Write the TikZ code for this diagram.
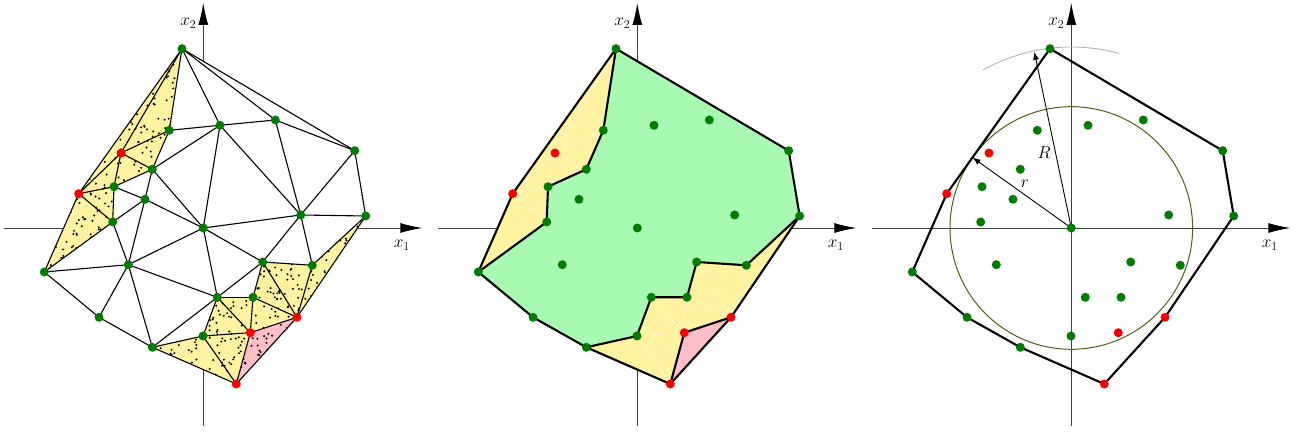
\documentclass[tikz,border=0pt]{standalone}
\usetikzlibrary{arrows.meta}
\definecolor{ptgreen}{RGB}{0,125,0}
\definecolor{ptred}{RGB}{250,0,0}
\definecolor{cellyellow}{RGB}{255,242,160}
\definecolor{cellpink}{RGB}{255,190,200}
\definecolor{cellgreen}{RGB}{168,250,178}
\definecolor{ballolive}{RGB}{90,90,20}
\newcommand{\ptlist}{1/-21.3/179.3,2/-34/97.7,3/16.7/102.7,4/72/108,5/151.4/77.3,
 6/-82.3/75,7/-51/58.7,8/-89.3/41.3,9/-124.6/34.3,10/-58.3/28.7,11/-90.6/6,12/0/0,
 13/97.4/13,14/162.4/12,15/-159/-44,16/-75/-36.7,17/59.4/-34,18/109/-37.3,
 19/14/-69.3,20/49.7/-69.3,21/93.7/-89.3,22/-104.3/-89.3,23/47/-104.7,
 24/-0.3/-108,25/-51/-119.3,26/33/-156}
\newcommand{\greenpts}{1,2,3,4,5,7,8,10,11,12,13,14,15,16,17,18,19,20,22,24,25}
\newcommand{\redpts}{6,9,21,23,26}
\newcommand{\triedges}{1/5,5/14,14/21,21/26,26/25,25/22,22/15,15/9,9/1,
 1/6,1/2,1/3,1/4,6/9,6/2,6/7,6/8,9/8,9/11,2/7,2/3,7/8,7/3,7/12,7/10,8/11,8/10,
 10/11,10/16,10/12,11/15,11/16,3/4,3/12,3/13,4/5,4/13,5/13,13/14,13/12,13/17,
 13/18,14/18,12/16,12/19,12/17,15/16,16/22,16/25,16/19,25/19,25/24,19/24,19/23,
 19/20,19/17,17/20,17/21,17/18,18/21,20/21,20/23,23/21,23/24,23/26,24/26}
\newcommand{\yellowtris}{1/9/6,1/6/2,6/2/7,6/7/8,6/8/9,9/8/11,9/11/15,
 25/24/26,24/23/26,24/19/23,19/20/23,20/21/23,20/17/21,17/18/21,18/14/21}
\newcommand{\softedges}{1/6,6/9,6/2,6/7,6/8,9/8,9/11,24/26,24/23,19/23,20/23,20/21,17/21,18/21}

\begin{document}
\begin{tikzpicture}[x=1pt,y=1pt,font=\fontsize{17.5}{21}\selectfont,
 axis/.style={draw=black!75,line width=0.9pt,-{Latex[length=22pt,width=10pt,color=black]}},
 edge/.style={line width=1.1pt},
 bound/.style={line width=2.1pt,line join=round},
 soft/.style={draw=white,line width=0.8pt,opacity=0.45},
 gpt/.style={circle,fill=ptgreen,inner sep=0pt,minimum size=9pt},
 rpt/.style={circle,fill=ptred,inner sep=0pt,minimum size=9pt},
 radarr/.style={line width=0.9pt,-{Latex[length=8pt,width=6pt]}}]
\useasboundingbox (0,0) rectangle (1299,435);

\begin{scope}[shift={(203.3,207)}]
\foreach \n/\x/\y in \ptlist {\coordinate (p\n) at (\x,\y);}
\coordinate (xl) at (-199,0); \coordinate (xr) at (219,0);
\coordinate (yb) at (0,-198); \coordinate (yt) at (0,225);
\draw[axis] (xl) -- (xr);
\draw[axis] (yb) -- (yt);
\node (lxa) at (198.5,-17.5) {$x_1$};
\node (lya) at (-15,204.5) {$x_2$};
\fill[white] (p1)--(p5)--(p14)--(p21)--(p26)--(p25)--(p22)--(p15)--(p9)--cycle;
\fill[cellyellow] \foreach \a/\b/\c in \yellowtris {(p\a)--(p\b)--(p\c)--cycle};
\fill[cellpink] (p23)--(p21)--(p26)--cycle;
\begin{scope}
\clip \foreach \a/\b/\c in \yellowtris {(p\a)--(p\b)--(p\c)--cycle} (p23)--(p21)--(p26)--cycle;
\pgfmathsetseed{4127}
\foreach \i in {1,...,560} {\fill ({-160+140*rnd},{-45+225*rnd}) circle (1.1);}
\foreach \i in {1,...,650} {\fill ({-52+215*rnd},{-157+170*rnd}) circle (1.1);}
\end{scope}
\foreach \a/\b in \triedges {\draw[edge] (p\a) -- (p\b);}
\foreach \n in \greenpts {\node[gpt] (ga\n) at (p\n) {};}
\foreach \n in \redpts {\node[rpt] (ra\n) at (p\n) {};}
\end{scope}

\begin{scope}[shift={(637.3,207)}]
\foreach \n/\x/\y in \ptlist {\coordinate (p\n) at (\x,\y);}
\coordinate (xl) at (-199,0); \coordinate (xr) at (219,0);
\coordinate (yb) at (0,-198); \coordinate (yt) at (0,225);
\draw[axis] (xl) -- (xr);
\draw[axis] (yb) -- (yt);
\node (lxb) at (198.5,-17.5) {$x_1$};
\node (lyb) at (-15,204.5) {$x_2$};
\fill[cellgreen] (p1)--(p5)--(p14)--(p18)--(p17)--(p20)--(p19)--(p24)--(p25)--(p22)--(p15)--(p11)--(p8)--(p7)--(p2)--cycle;
\fill[cellyellow] (p1)--(p2)--(p7)--(p8)--(p11)--(p15)--(p9)--cycle;
\fill[cellyellow] (p25)--(p24)--(p19)--(p20)--(p17)--(p18)--(p14)--(p21)--(p26)--cycle;
\fill[cellpink] (p23)--(p21)--(p26)--cycle;
\foreach \a/\b in \softedges {\draw[soft] (p\a) -- (p\b);}
\draw[bound] (p1)--(p5)--(p14)--(p21)--(p26)--(p25)--(p22)--(p15)--(p9)--cycle;
\draw[bound] (p1)--(p2)--(p7)--(p8)--(p11)--(p15);
\draw[bound] (p25)--(p24)--(p19)--(p20)--(p17)--(p18)--(p14);
\draw[bound] (p21)--(p23)--(p26);
\foreach \n in \greenpts {\node[gpt] (gb\n) at (p\n) {};}
\foreach \n in \redpts {\node[rpt] (rb\n) at (p\n) {};}
\end{scope}

\begin{scope}[shift={(1071.3,207)}]
\foreach \n/\x/\y in \ptlist {\coordinate (p\n) at (\x,\y);}
\coordinate (xl) at (-199,0); \coordinate (xr) at (219,0);
\coordinate (yb) at (0,-198); \coordinate (yt) at (0,225);
\draw[axis] (xl) -- (xr);
\draw[axis] (yb) -- (yt);
\node (lxc) at (198.5,-17.5) {$x_1$};
\node (lyc) at (-15,204.5) {$x_2$};
\draw[ballolive,line width=1pt] (p12) circle (121.3);
\coordinate (arcstart) at (74.6:181);
\draw[black!30,line width=0.9pt] (arcstart) arc[start angle=74.6,end angle=119.2,radius=181];
\draw[bound] (p1)--(p5)--(p14)--(p21)--(p26)--(p25)--(p22)--(p15)--(p9)--cycle;
\coordinate (Rtip) at (101.85:180);
\coordinate (rtip) at (144.5:121.3);
\draw[radarr] (p12) -- (Rtip);
\draw[radarr] (p12) -- (rtip);
\node (lR) at (-27.3,75.7) {$R$};
\node (lr) at (-46.3,44) {$r$};
\foreach \n in \greenpts {\node[gpt] (gc\n) at (p\n) {};}
\foreach \n in \redpts {\node[rpt] (rc\n) at (p\n) {};}
\end{scope}
\end{tikzpicture}
\end{document}
